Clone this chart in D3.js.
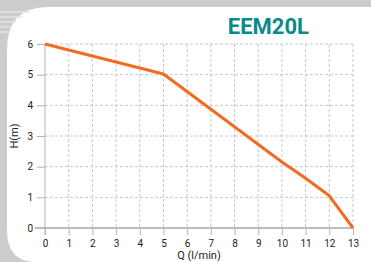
<!DOCTYPE html>
<html>
<head>
<meta charset="utf-8">
<script src="https://cdn.jsdelivr.net/npm/d3@7"></script>
<style>
  body { margin: 0; background: #cccccc; }
  svg { display: block; }
</style>
</head>
<body>
<svg id="chart" width="371" height="262"></svg>
<script>
const flow = [0, 5, 10, 11, 12, 13];
const head = [6, 5.02, 2.15, 1.62, 1.05, 0];
const xTicks = d3.range(0, 14);
const yTicks = d3.range(0, 7);
const title = 'EEM20L';

const svg = d3.select('#chart');
const W = 371, H = 262;
const margin = { top: 44, right: 18, bottom: 34, left: 45 };
const width = W - margin.left - margin.right;
const height = H - margin.top - margin.bottom;

// background: gray frame with white rounded panel
svg.append('rect').attr('width', W).attr('height', H).attr('fill', '#cccccc');
svg.append('path')
    .attr('fill', '#fff')
    .attr('d', 'M48,7 L371,7 L371,262 L36,262 Q7,262 7,230 L7,50 Q7,7 48,7 Z');
// decorative stripes top-left
const stripes = [[0, 12, 30], [0, 17, 22], [0, 22, 16], [0, 27, 12], [0, 32, 9]];
svg.selectAll('.stripe').data(stripes).join('line')
    .attr('x1', d => d[0]).attr('x2', d => d[2])
    .attr('y1', d => d[1]).attr('y2', d => d[1])
    .attr('stroke', '#e6e6e6').attr('stroke-width', 1.5);

svg.append('text')
    .attr('x', 309).attr('y', 34)
    .attr('text-anchor', 'end')
    .attr('font-family', 'Roboto, sans-serif')
    .attr('font-weight', 'bold')
    .attr('font-size', 22)
    .attr('fill', '#0a8a8a')
    .text(title);

const g = svg.append('g').attr('transform', `translate(${margin.left},${margin.top})`);
const x = d3.scaleLinear().domain([0, 13]).range([0, width]);
const y = d3.scaleLinear().domain([0, 6]).range([height, 0]);

// grid
g.selectAll('.vgrid').data(xTicks.slice(1)).join('line')
    .attr('x1', d => x(d)).attr('x2', d => x(d))
    .attr('y1', 0).attr('y2', height)
    .attr('stroke', '#c8c8c8').attr('stroke-dasharray', '3,2');
g.selectAll('.hgrid').data(yTicks.slice(1)).join('line')
    .attr('x1', 0).attr('x2', width)
    .attr('y1', d => y(d)).attr('y2', d => y(d))
    .attr('stroke', '#c8c8c8').attr('stroke-dasharray', '3,2');

const xAxis = g.append('g').attr('transform', `translate(0,${height})`)
    .call(d3.axisBottom(x).tickValues(xTicks).tickFormat(d3.format('d')).tickSize(7).tickPadding(5));
const yAxis = g.append('g')
    .call(d3.axisLeft(y).tickValues(yTicks).tickFormat(d3.format('d')).tickSize(8).tickPadding(4));
[xAxis, yAxis].forEach(a => {
    a.select('.domain').remove();
    a.selectAll('line').attr('stroke', '#b4b4b4');
    a.selectAll('text').attr('fill', '#222').attr('font-family', 'Roboto, sans-serif').attr('font-size', 10);
});
g.append('line').attr('x1', -10).attr('x2', width).attr('y1', height).attr('y2', height)
    .attr('stroke', '#bdbdbd').attr('stroke-width', 2);
g.append('line').attr('x1', 0).attr('x2', 0).attr('y1', 0).attr('y2', height + 7)
    .attr('stroke', '#b4b4b4');

const line = d3.line().x((d, i) => x(flow[i])).y(d => y(d));
g.append('path')
    .datum(head)
    .attr('fill', 'none')
    .attr('stroke', '#f26b21')
    .attr('stroke-width', 3)
    .attr('stroke-linejoin', 'round')
    .attr('d', line);

g.append('text')
    .attr('x', width / 2).attr('y', height + 31)
    .attr('text-anchor', 'middle')
    .attr('font-family', 'Roboto, sans-serif').attr('font-size', 11).attr('fill', '#222')
    .text('Q (l/min)');
g.append('text')
    .attr('transform', `translate(-27,${height / 2}) rotate(-90)`)
    .attr('text-anchor', 'middle')
    .attr('font-family', 'Roboto, sans-serif').attr('font-size', 11).attr('fill', '#222')
    .text('H(m)');
</script>
</body>
</html>
